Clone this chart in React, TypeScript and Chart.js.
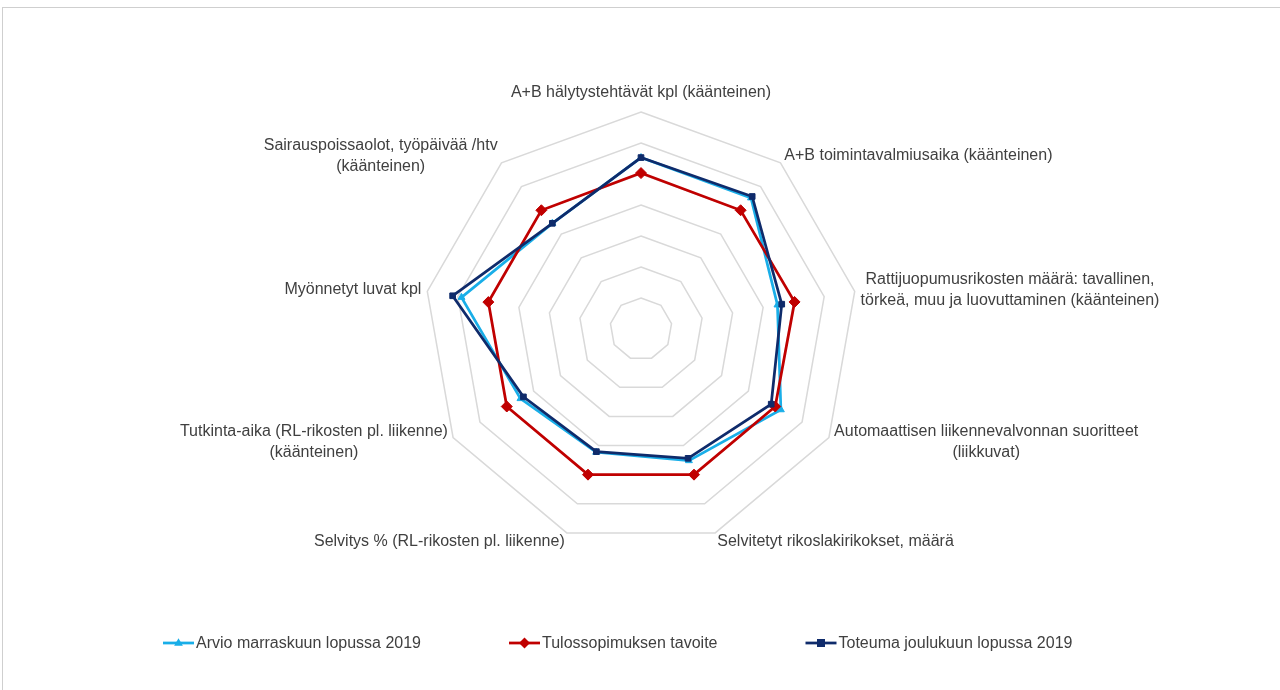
import React, { useEffect, useRef } from "react";
import { Chart, registerables } from "chart.js";

Chart.register(...registerables);

// ---- Data ----
const categories: (string | string[])[] = [
  "A+B hälytystehtävät kpl (käänteinen)",
  "A+B toimintavalmiusaika (käänteinen)",
  ["Rattijuopumusrikosten määrä: tavallinen,", "törkeä, muu ja luovuttaminen (käänteinen)"],
  ["Automaattisen liikennevalvonnan suoritteet", "(liikkuvat)"],
  "Selvitetyt rikoslakirikokset, määrä",
  "Selvitys % (RL-rikosten pl. liikenne)",
  ["Tutkinta-aika (RL-rikosten pl. liikenne)", "(käänteinen)"],
  "Myönnetyt luvat kpl",
  ["Sairauspoissaolot, työpäivää /htv", "(käänteinen)"],
];

const seriesNames = [
  "Arvio marraskuun lopussa 2019",
  "Tulossopimuksen tavoite",
  "Toteuma joulukuun lopussa 2019",
];

const arvio = [5.53, 5.52, 4.47, 5.21, 4.52, 4.23, 4.49, 5.88, 4.45];
const tavoite = [5.03, 5, 5.03, 5, 5, 5, 5, 5, 5];
const toteuma = [5.53, 5.58, 4.61, 4.85, 4.44, 4.21, 4.38, 6.17, 4.45];

const scaleMin = 0;
const scaleMax = 7;
const scaleStep = 1;

// ---- Styles ----
const FONT = '16px "Liberation Sans", Arial, sans-serif';
const TEXT_COLOR = "#404040";
const COLORS = ["#19aee8", "#c00000", "#0f2b6b"];
const MARKERS = ["triangle", "rectRot", "rect"];
const MARKER_R = [4, 5.5, 4];

function drawMarker(ctx: CanvasRenderingContext2D, style: string, x: number, y: number, r: number, color: string) {
  ctx.fillStyle = color;
  ctx.beginPath();
  if (style === "triangle") {
    ctx.moveTo(x, y - r * 1.2);
    ctx.lineTo(x + r * 1.1, y + r * 0.7);
    ctx.lineTo(x - r * 1.1, y + r * 0.7);
  } else if (style === "rectRot") {
    ctx.moveTo(x, y - r);
    ctx.lineTo(x + r, y);
    ctx.lineTo(x, y + r);
    ctx.lineTo(x - r, y);
  } else {
    ctx.rect(x - r, y - r, 2 * r, 2 * r);
  }
  ctx.closePath();
  ctx.fill();
}

const labelPlugin = {
  id: "excelPointLabels",
  afterDraw(chart: any) {
    const scale = chart.scales.r;
    const ctx: CanvasRenderingContext2D = chart.ctx;
    ctx.save();
    ctx.font = FONT;
    ctx.fillStyle = TEXT_COLOR;
    ctx.textBaseline = "middle";
    ctx.textAlign = "center";
    const lh = 21;
    categories.forEach((lab, i) => {
      const lines = Array.isArray(lab) ? lab : [lab];
      const a = scale.getIndexAngle(i);
      const s = Math.sin(a);
      const c = Math.cos(a);
      const p = scale.getPointPosition(i, scale.drawingArea + 6);
      const w = Math.max(...lines.map((l) => ctx.measureText(l).width));
      const h = lines.length * lh;
      let left: number;
      if (Math.abs(s) < 0.1) left = p.x - w / 2;
      else if (s > 0) left = p.x;
      else left = p.x - w;
      let cy: number;
      if (Math.abs(s) < 0.1 && c > 0) cy = p.y - h / 2 - 3;
      else cy = p.y - c * 3;
      lines.forEach((l, k) => {
        ctx.fillText(l, left + w / 2, cy - h / 2 + lh * (k + 0.5));
      });
    });
    ctx.restore();
  },
};

const legendPlugin = {
  id: "excelLegend",
  afterDraw(chart: any) {
    const ctx: CanvasRenderingContext2D = chart.ctx;
    ctx.save();
    ctx.font = FONT;
    ctx.textBaseline = "middle";
    ctx.textAlign = "left";
    const y = 643;
    let x = 163;
    seriesNames.forEach((name, i) => {
      ctx.strokeStyle = COLORS[i];
      ctx.lineWidth = 2.75;
      ctx.beginPath();
      ctx.moveTo(x, y);
      ctx.lineTo(x + 31, y);
      ctx.stroke();
      drawMarker(ctx, MARKERS[i], x + 15.5, y, MARKER_R[i], COLORS[i]);
      ctx.fillStyle = TEXT_COLOR;
      ctx.fillText(name, x + 33, y + 1);
      x += 33 + ctx.measureText(name).width + 88;
    });
    ctx.restore();
  },
};

export default function App() {
  const ref = useRef<HTMLCanvasElement>(null);

  useEffect(() => {
    if (!ref.current) return;
    const series = [arvio, tavoite, toteuma];
    const chart = new Chart(ref.current, {
      type: "radar",
      data: {
        labels: categories as any,
        datasets: series.map((d, i) => ({
          label: seriesNames[i],
          data: d,
          borderColor: COLORS[i],
          backgroundColor: COLORS[i],
          pointBackgroundColor: COLORS[i],
          pointBorderColor: COLORS[i],
          pointStyle: MARKERS[i] as any,
          pointRadius: MARKER_R[i],
          pointBorderWidth: 1,
          borderWidth: 2.75,
          fill: false,
          tension: 0,
          order: 3 - i,
        })),
      },
      options: {
        responsive: false,
        animation: false,
        layout: { padding: { left: 424, right: 422, top: 112, bottom: 144 } },
        plugins: {
          legend: { display: false },
          tooltip: { enabled: false },
        },
        scales: {
          r: {
            min: scaleMin,
            max: scaleMax,
            ticks: { display: false, stepSize: scaleStep },
            grid: { color: "#d9d9d9", lineWidth: 1.5 },
            angleLines: { display: false },
            pointLabels: { display: false },
          },
        },
      },
      plugins: [labelPlugin, legendPlugin],
    });
    return () => chart.destroy();
  }, []);

  return (
    <div style={{ position: "fixed", left: 0, top: 0, width: 1280, height: 690, background: "#fff", overflow: "hidden" }}>
      <canvas ref={ref} width={1280} height={690} style={{ display: "block", position: "absolute", left: 0, top: 0 }} />
      <div
        style={{
          position: "absolute",
          left: 2,
          top: 7,
          width: 1400,
          height: 800,
          borderTop: "1px solid #cfcfcf",
          borderLeft: "1px solid #cfcfcf",
          pointerEvents: "none",
        }}
      />
    </div>
  );
}
